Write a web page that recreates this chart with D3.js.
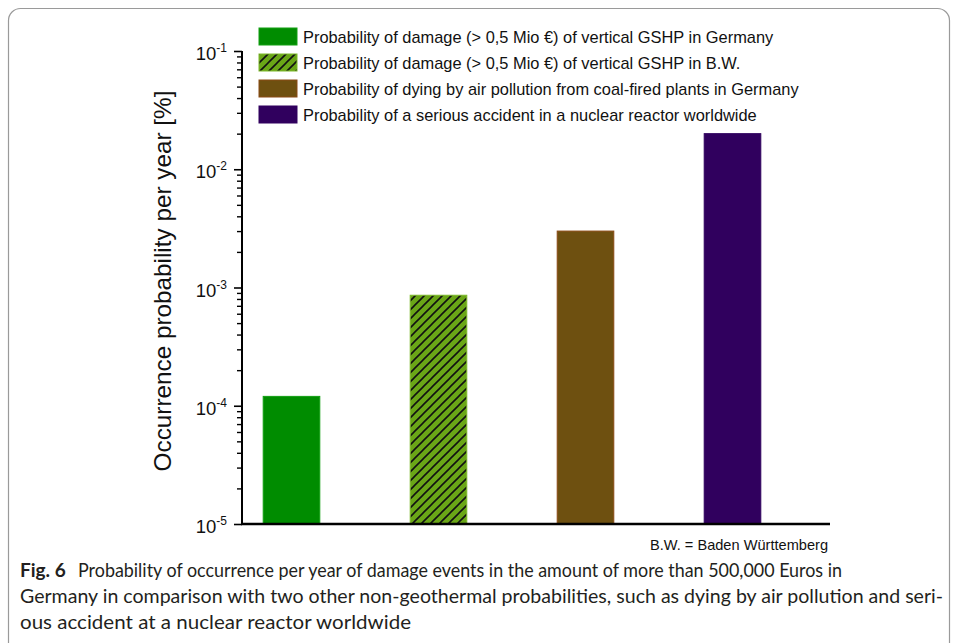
<!DOCTYPE html>
<html>
<head>
<meta charset="utf-8">
<script src="https://cdn.jsdelivr.net/npm/d3@7"></script>
<style>
  html, body { margin: 0; padding: 0; background: #fff; }
  svg { display: block; }
</style>
</head>
<body>
<svg id="chart" width="958" height="643"></svg>
<script>
// ---------------- data ----------------
const categories = ["GSHP Germany", "GSHP B.W.", "Coal-fired plants Germany", "Nuclear reactor worldwide"];
const legendLabels = [
  "Probability of damage (> 0,5 Mio €) of vertical GSHP in Germany",
  "Probability of damage (> 0,5 Mio €) of vertical GSHP in B.W.",
  "Probability of dying by air pollution from coal-fired plants in Germany",
  "Probability of a serious accident in a nuclear reactor worldwide"
];
const values = [1.2e-4, 8.6e-4, 3.0e-3, 2.0e-2];
const tickExponents = [-5, -4, -3, -2, -1];
const yTitle = "Occurrence probability per year [%]";
const footnote = "B.W. = Baden Württemberg";
const captionBold = "Fig. 6";
const captionLines = [
  "Probability of occurrence per year of damage events in the amount of more than 500,000 Euros in",
  "Germany in comparison with two other non-geothermal probabilities, such as dying by air pollution and seri-",
  "ous accident at a nuclear reactor worldwide"
];

// ---------------- styles ----------------
const fills = ["#008c00", "url(#hatch)", "#6e5010", "#30005e"];
const strokes = ["#12a012", "#7cb82a", "#8a4a14", "#30005e"];

const svg = d3.select("#chart");
const defs = svg.append("defs");
const pat = defs.append("pattern")
  .attr("id", "hatch").attr("patternUnits", "userSpaceOnUse")
  .attr("width", 9).attr("height", 9);
pat.append("rect").attr("width", 9).attr("height", 9).attr("fill", "#6aa617");
pat.append("path")
  .attr("d", "M-1,1 l2,-2 M0,9 l9,-9 M8,10 l2,-2")
  .attr("stroke", "#111").attr("stroke-width", 1.6);

// frame
svg.append("rect")
  .attr("x", 8.5).attr("y", 8.5).attr("width", 941).attr("height", 700)
  .attr("rx", 12).attr("fill", "none").attr("stroke", "#9a9a9a").attr("stroke-width", 1.2);

// ---------------- scales ----------------
const plotLeft = 242, plotRight = 830, plotTop = 51, plotBottom = 524;
const x = d3.scaleBand()
  .domain(categories)
  .range([plotLeft - 24, plotRight - 24])
  .paddingInner(0.615)
  .paddingOuter(0.3075);
const y = d3.scaleLog().domain([1e-5, 1e-1]).range([plotBottom, plotTop]);

// bars
svg.append("g").selectAll("rect")
  .data(values)
  .join("rect")
  .attr("x", (d, i) => x(categories[i]))
  .attr("width", x.bandwidth())
  .attr("y", d => y(d))
  .attr("height", d => plotBottom - y(d))
  .attr("fill", (d, i) => fills[i])
  .attr("stroke", (d, i) => strokes[i])
  .attr("stroke-width", 1);

// y axis
const minorTicks = [];
for (let e = -5; e < -1; e++) for (let m = 2; m <= 9; m++) minorTicks.push(m * Math.pow(10, e));
const yAxis = d3.axisLeft(y)
  .tickValues(tickExponents.map(e => Math.pow(10, e)))
  .tickSize(8).tickFormat("");
const yg = svg.append("g").attr("transform", `translate(${plotLeft},0)`).call(yAxis);
yg.select(".domain").attr("stroke", "#000").attr("stroke-width", 2).attr("d", `M0,${plotBottom}V${plotTop}`);
yg.selectAll(".tick line").attr("stroke", "#000").attr("stroke-width", 1.6);
const ymg = svg.append("g").attr("transform", `translate(${plotLeft},0)`)
  .call(d3.axisLeft(y).tickValues(minorTicks).tickSize(5).tickFormat(""));
ymg.select(".domain").remove();
ymg.selectAll(".tick line").attr("stroke", "#000").attr("stroke-width", 1.4);

// tick labels with superscripts
const lab = svg.append("g").selectAll("text")
  .data(tickExponents)
  .join("text")
  .attr("x", plotLeft - 15)
  .attr("y", e => y(Math.pow(10, e)) + 9)
  .attr("text-anchor", "end")
  .attr("font-family", "Liberation Sans, Arial, sans-serif")
  .attr("fill", "#111");
lab.append("tspan").attr("font-size", 18.5).text("10");
lab.append("tspan").attr("font-size", 12).attr("dy", -8).text(e => "-" + Math.abs(e));

// x axis line
svg.append("line")
  .attr("x1", plotLeft - 1).attr("x2", plotRight)
  .attr("y1", plotBottom).attr("y2", plotBottom)
  .attr("stroke", "#000").attr("stroke-width", 2.5);

// y title
svg.append("text")
  .attr("transform", `translate(171,281) rotate(-90)`)
  .attr("text-anchor", "middle")
  .attr("font-family", "Liberation Sans, Arial, sans-serif")
  .attr("font-size", 24.3)
  .attr("fill", "#111")
  .text(yTitle);

// legend
const lg = svg.append("g").selectAll("g")
  .data(legendLabels)
  .join("g")
  .attr("transform", (d, i) => `translate(259,${28 + i * 26})`);
lg.append("rect")
  .attr("width", 38).attr("height", 17)
  .attr("fill", (d, i) => fills[i])
  .attr("stroke", (d, i) => strokes[i]).attr("stroke-width", 1);
lg.append("text")
  .attr("x", 44).attr("y", 14.5)
  .attr("font-family", "Liberation Sans, Arial, sans-serif")
  .attr("font-size", 16.4)
  .attr("fill", "#111")
  .text(d => d);

// footnote
svg.append("text")
  .attr("x", 828).attr("y", 549.5)
  .attr("text-anchor", "end")
  .attr("font-family", "Liberation Sans, Arial, sans-serif")
  .attr("font-size", 14.6)
  .attr("fill", "#111")
  .text(footnote);

// caption
const cap = svg.append("g").attr("font-family", "Lato, 'Open Sans', sans-serif").attr("fill", "#231f20").attr("font-size", 19);
const first = cap.append("text").attr("y", 577);
first.append("tspan").attr("x", 20).attr("font-weight", "bold").text(captionBold);
first.append("tspan").attr("x", 78).attr("textLength", 764).attr("lengthAdjust", "spacingAndGlyphs").text(captionLines[0]);
cap.append("text").attr("x", 20).attr("y", 603).attr("textLength", 923).attr("lengthAdjust", "spacingAndGlyphs").text(captionLines[1]);
cap.append("text").attr("x", 20).attr("y", 629).attr("textLength", 391).attr("lengthAdjust", "spacingAndGlyphs").text(captionLines[2]);
</script>
</body>
</html>
